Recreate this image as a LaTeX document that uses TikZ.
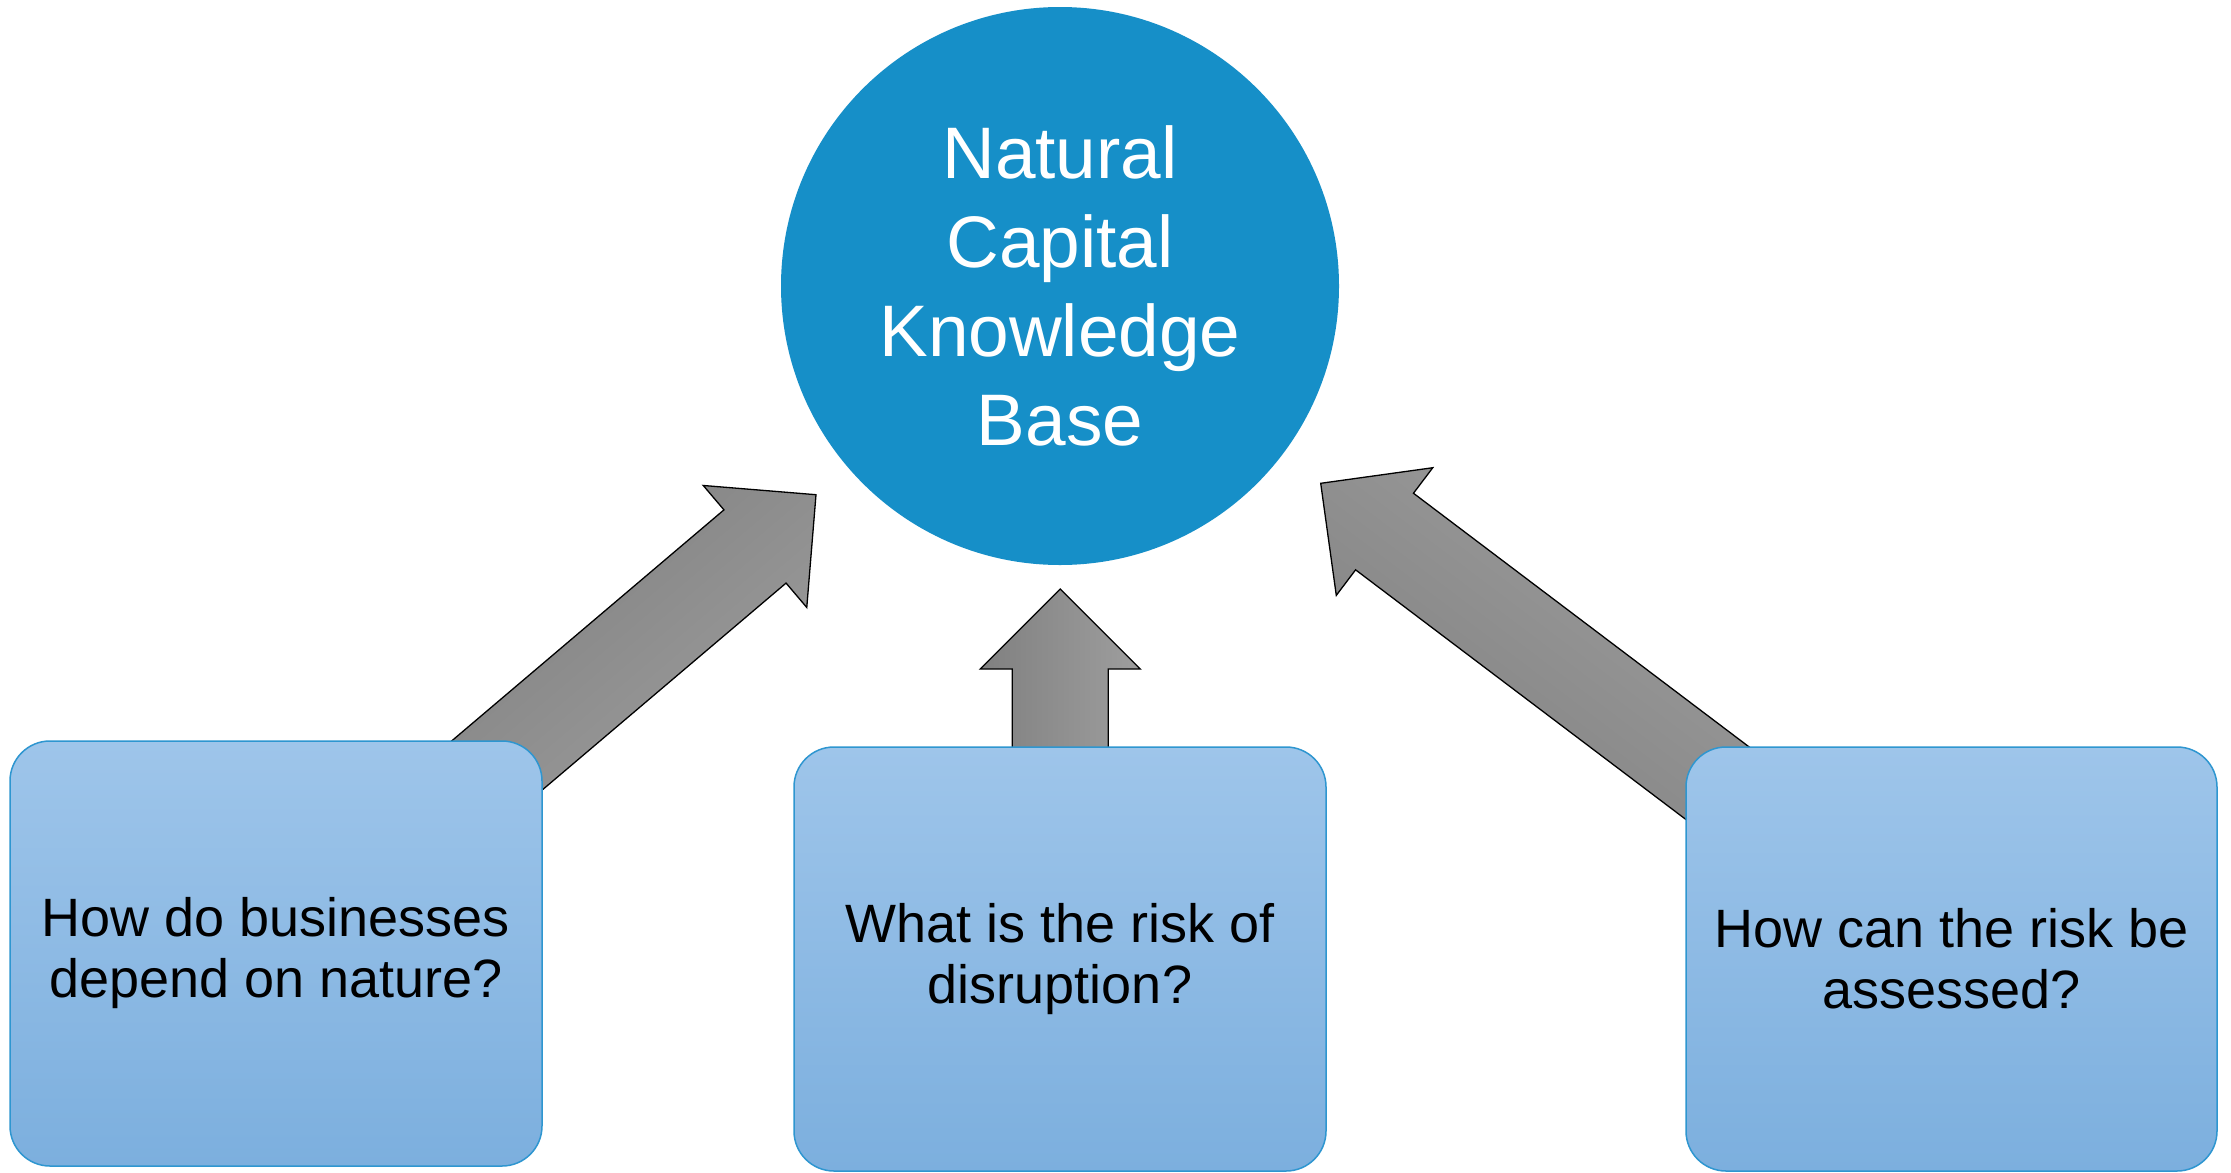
\documentclass[tikz,border=0pt]{standalone}
\usepackage{fontspec}
\setmainfont{Liberation Sans}
\usetikzlibrary{calc}
\definecolor{circblue}{RGB}{22,143,200}
\definecolor{boxtop}{RGB}{158,197,234}
\definecolor{boxbot}{RGB}{124,175,222}
\definecolor{boxline}{RGB}{46,150,208}
\definecolor{arrdark}{RGB}{128,128,128}
\definecolor{arrlight}{RGB}{158,158,158}
\tikzset{
 qbox/.style={rounded corners=40pt, draw=boxline, line width=1.5pt, top color=boxtop, bottom color=boxbot,
   minimum width=532pt, minimum height=425pt, inner sep=0pt, align=center,
   font=\fontsize{54pt}{61pt}\selectfont, text=black},
 kbcircle/.style={circle, fill=circblue, minimum size=558pt, inner sep=0pt, align=center, text=white,
   font=\fontsize{73pt}{89pt}\selectfont},
 blockarr/.style={draw=black, line width=1.3pt, top color=arrdark, bottom color=arrlight, line join=miter}
}
\newcommand\blockarrow[3]{%
  \coordinate (hb) at ($(#2)!80pt!(#1)$);
  \shadedraw[blockarr, shading angle=#3]
   ($(#1)!48pt!90:(#2)$) -- ($(hb)!48pt!90:(#2)$) -- ($(hb)!80pt!90:(#2)$) -- (#2)
   -- ($(hb)!80pt!-90:(#2)$) -- ($(hb)!48pt!-90:(#2)$) -- ($(#1)!48pt!-90:(#2)$) -- cycle;}
\begin{document}
\begin{tikzpicture}[x=1pt,y=-1pt]
\fill[white] (0,0) rectangle (2231,1173);
\useasboundingbox (0,0) rectangle (2231,1173);
% arrows
\coordinate (a1tail) at (450,805.3);
\coordinate (a1tip) at (816,494.7);
\coordinate (a2tail) at (1060.3,800);
\coordinate (a2tip) at (1060.3,589);
\coordinate (a3tail) at (1751.5,808.9);
\coordinate (a3tip) at (1320.7,483.3);
\blockarrow{a1tail}{a1tip}{40.3}
\blockarrow{a2tail}{a2tip}{90}
\blockarrow{a3tail}{a3tip}{142.9}
% boxes
\node[qbox] (b1) at (276,953.5) {How do businesses\\depend on nature?};
\node[qbox, minimum height=424pt] (b2) at (1060,959) {What is the risk of\\disruption?};
\node[qbox, minimum height=424pt, minimum width=531pt] (b3) at (1951.5,959) {How can the risk be\\assessed?};
% circle
\node[kbcircle] (kb) at (1060,286) {Natural\\Capital\\Knowledge\\Base};
\end{tikzpicture}
\end{document}
